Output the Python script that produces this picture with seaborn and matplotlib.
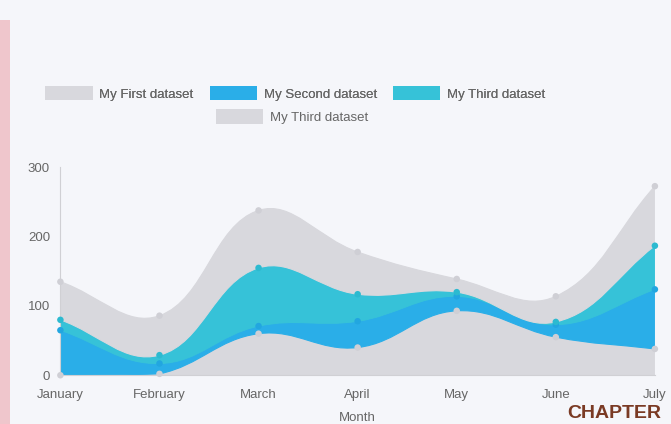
import numpy as np
import pandas as pd
import matplotlib
matplotlib.use("Agg")
import matplotlib.pyplot as plt
from matplotlib.path import Path
from matplotlib.patches import PathPatch, Patch, Rectangle
import seaborn as sns

# ---- data ----
months = ["January", "February", "March", "April", "May", "June", "July"]
first_dataset = [0, 2, 60, 40, 93, 55, 38]
second_dataset = [65, 15, 11, 38, 21, 18, 86]
third_dataset = [15, 12, 84, 39, 6, 4, 63]
third_dataset_b = [55, 57, 83, 61, 19, 37, 86]
series_labels = ["My First dataset", "My Second dataset", "My Third dataset", "My Third dataset"]
series_keys = ["first", "second", "third", "third_b"]
series_colors = ["#d8d8dd", "#2aaee8", "#36c2d8", "#d8d8dd"]
point_colors = ["#cfcfd5", "#22a6e0", "#2cbad0", "#cfcfd5"]
y_ticks = [0, 100, 200, 300]

sns.set_theme(style="white")
plt.rcParams["font.family"] = ["Liberation Sans", "DejaVu Sans"]

fig = plt.figure(figsize=(6.71, 4.24), dpi=100)
fig.patch.set_facecolor("#f5f6fa")
ax = fig.add_axes([0.09, 0.115, 0.886, 0.49])
ax.set_facecolor("none")

x = np.arange(len(months), dtype=float)
values = np.array([first_dataset, second_dataset, third_dataset, third_dataset_b], dtype=float)
upper = np.cumsum(values, axis=0)
lower = np.vstack([np.zeros(len(months)), upper[:-1]])

ymax = 300
ax.set_xlim(0, len(months) - 1)
ax.set_ylim(0, ymax)

# pixel-ish scale used for Chart.js style spline control points
SX, SY = 99.0, 0.69


def control_points(xs, ys, t=0.4):
    px = np.asarray(xs) * SX
    py = np.asarray(ys) * SY
    n = len(px)
    prev_cp, next_cp = [], []
    for i in range(n):
        a = max(i - 1, 0)
        c = min(i + 1, n - 1)
        d01 = np.hypot(px[i] - px[a], py[i] - py[a])
        d12 = np.hypot(px[c] - px[i], py[c] - py[i])
        tot = d01 + d12
        s01 = d01 / tot if tot > 0 else 0.0
        s12 = d12 / tot if tot > 0 else 0.0
        fa, fb = t * s01, t * s12
        dx, dy = px[c] - px[a], py[c] - py[a]
        pcx, pcy = px[i] - fa * dx, py[i] - fa * dy
        ncx, ncy = px[i] + fb * dx, py[i] + fb * dy
        pcy = min(max(pcy, 0), ymax * SY)
        ncy = min(max(ncy, 0), ymax * SY)
        prev_cp.append((pcx / SX, pcy / SY))
        next_cp.append((ncx / SX, ncy / SY))
    return prev_cp, next_cp


def band_path(xs, lo, hi):
    verts, codes = [], []
    pp, nn = control_points(xs, hi)
    verts.append((xs[0], hi[0])); codes.append(Path.MOVETO)
    for i in range(len(xs) - 1):
        verts += [nn[i], pp[i + 1], (xs[i + 1], hi[i + 1])]
        codes += [Path.CURVE4] * 3
    verts.append((xs[-1], lo[-1])); codes.append(Path.LINETO)
    pl, nl = control_points(xs, lo)
    for i in range(len(xs) - 1, 0, -1):
        verts += [pl[i], nl[i - 1], (xs[i - 1], lo[i - 1])]
        codes += [Path.CURVE4] * 3
    verts.append((xs[0], hi[0])); codes.append(Path.CLOSEPOLY)
    return Path(verts, codes)


for k in range(len(values)):
    if np.allclose(upper[k], lower[k]):
        continue
    patch = PathPatch(band_path(x, lower[k], upper[k]), facecolor=series_colors[k],
                      edgecolor=series_colors[k], lw=0.8, zorder=2 + k * 0.01)
    ax.add_patch(patch)

# data points on each stacked boundary
pts = pd.DataFrame({
    "month": np.tile(x, len(series_keys)),
    "value": upper.ravel(),
    "series": np.repeat(series_keys, len(months)),
})
sns.scatterplot(data=pts, x="month", y="value", hue="series",
                palette=dict(zip(series_keys, point_colors)), s=22,
                edgecolor="none", legend=False, ax=ax, zorder=5, clip_on=False)

# axes styling (Chart.js-like)
ax.set_xticks(x)
ax.set_xticklabels(months)
ax.set_yticks(y_ticks)
ax.tick_params(axis="both", colors="#666666", labelsize=9.5, length=4, width=0.6)
ax.tick_params(axis="x", pad=6)
for side in ("top", "right"):
    ax.spines[side].set_visible(False)
for side in ("left", "bottom"):
    ax.spines[side].set_color("#d0d0d4")
    ax.spines[side].set_linewidth(0.8)
ax.set_xlabel("Month", color="#666666", fontsize=9.5, labelpad=8)
ax.set_ylabel("")
ax.grid(False)

# legend: three items on the first row, one on the second
handles = [Patch(facecolor=series_colors[k], edgecolor="none") for k in range(4)]
leg1 = fig.legend(handles[:3], series_labels[:3], ncol=3, loc="center",
                  bbox_to_anchor=(0.44, 0.78), frameon=False, fontsize=9.5,
                  handlelength=3.6, handleheight=1.3, columnspacing=1.2,
                  handletextpad=0.5, labelcolor="#666666")
leg2 = fig.legend(handles[3:], series_labels[3:], ncol=1, loc="center",
                  bbox_to_anchor=(0.435, 0.725), frameon=False, fontsize=9.5,
                  handlelength=3.6, handleheight=1.3, handletextpad=0.5,
                  labelcolor="#666666")
fig.add_artist(leg1)

# photo surroundings: pink page edge and the heading at the bottom right
fig.patches.append(Rectangle((0, 0), 10 / 671, 1 - 20 / 424, transform=fig.transFigure,
                             facecolor="#efc6cc", edgecolor="none", zorder=0))
fig.text(0.985, 0.005, "CHAPTER", color="#7a3a24", fontsize=14,
         fontweight="bold", va="bottom", ha="right")

fig.savefig("out.png", dpi=100, facecolor=fig.get_facecolor())
